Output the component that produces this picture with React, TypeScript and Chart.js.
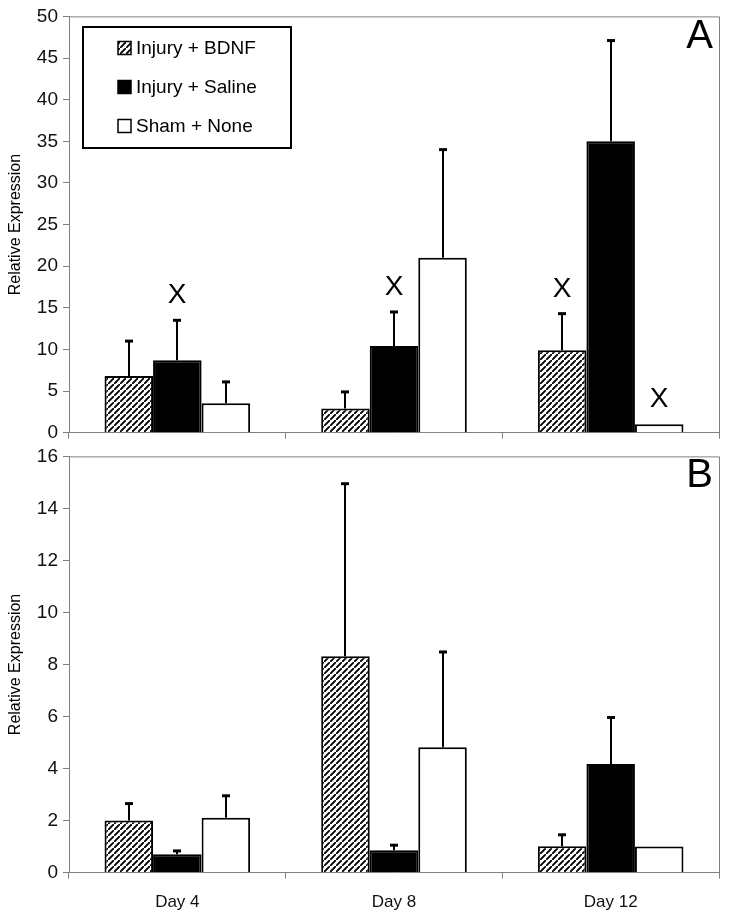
import React, { useEffect, useRef } from 'react';
import { Chart, registerables } from 'chart.js';

Chart.register(...registerables);

const categories = ['Day 4', 'Day 8', 'Day 12'];
const seriesLabels = ['Injury + BDNF', 'Injury + Saline', 'Sham + None'];

// Panel A values and upper error amounts
const aBdnf = [6.8, 2.9, 9.9];
const aSaline = [8.7, 10.4, 35.0];
const aSham = [3.55, 21.0, 1.0];
const aBdnfErr = [4.2, 2.0, 4.4];
const aSalineErr = [4.8, 4.1, 12.1];
const aShamErr = [2.55, 13.0, 0];
const aMarks = [
  [false, false, true],
  [true, true, false],
  [false, false, true],
];

// Panel B values and upper error amounts
const bBdnf = [2.0, 8.32, 1.01];
const bSaline = [0.7, 0.86, 4.17];
const bSham = [2.11, 4.82, 1.0];
const bBdnfErr = [0.65, 6.63, 0.44];
const bSalineErr = [0.13, 0.19, 1.79];
const bShamErr = [0.84, 3.66, 0];
const bMarks = [
  [false, false, false],
  [false, false, false],
  [false, false, false],
];

const FONT = 'Liberation Sans, Arial, sans-serif';
const GRAY = '#808080';

function makeHatch(): CanvasPattern {
  const s = 6;
  const c = document.createElement('canvas');
  c.width = s;
  c.height = s;
  const g = c.getContext('2d')!;
  g.fillStyle = '#fff';
  g.fillRect(0, 0, s, s);
  g.strokeStyle = '#000';
  g.lineWidth = 1.9;
  g.beginPath();
  g.moveTo(-1, s + 1);
  g.lineTo(s + 1, -1);
  g.moveTo(-s - 1, 1);
  g.lineTo(1, -s - 1);
  g.moveTo(s - 1, 2 * s + 1);
  g.lineTo(2 * s + 1, s - 1);
  g.stroke();
  return g.createPattern(c, 'repeat')!;
}

interface Panel {
  values: number[][];
  errs: number[][];
  marks: boolean[][];
  max: number;
  step: number;
  letter: string;
  letterBaseline: number;
  legend: boolean;
  showX: boolean;
  canvasH: number;
  plotTop: number;
  plotBottom: number;
}

const decoPlugin = {
  id: 'panelDeco',
  afterDatasetsDraw(chart: any, _args: any, opts: any) {
    const p: Panel = opts.panel;
    const hatch: CanvasPattern = opts.hatch;
    const ctx: CanvasRenderingContext2D = chart.ctx;
    const ys = chart.scales.y;
    const area = chart.chartArea;
    ctx.save();
    // frame
    ctx.strokeStyle = GRAY;
    ctx.lineWidth = 1;
    ctx.beginPath();
    ctx.moveTo(area.left, area.top + 0.5);
    ctx.lineTo(area.right + 0.5, area.top + 0.5);
    ctx.lineTo(area.right + 0.5, area.bottom);
    ctx.stroke();

    // error bars + marks
    chart.data.datasets.forEach((_ds: any, i: number) => {
      const meta = chart.getDatasetMeta(i);
      meta.data.forEach((bar: any, j: number) => {
        const v = p.values[i][j];
        const e = p.errs[i][j];
        const barTop = ys.getPixelForValue(v);
        const top = ys.getPixelForValue(v + e);
        const x = Math.round(bar.x);
        if (e > 0) {
          ctx.strokeStyle = '#000';
          ctx.lineWidth = 2;
          ctx.beginPath();
          ctx.moveTo(x, barTop);
          ctx.lineTo(x, top);
          ctx.stroke();
          ctx.lineWidth = 3;
          ctx.beginPath();
          ctx.moveTo(x - 4, top);
          ctx.lineTo(x + 4, top);
          ctx.stroke();
        }
        if (p.marks[i][j]) {
          ctx.fillStyle = '#000';
          ctx.font = `28px ${FONT}`;
          ctx.textAlign = 'center';
          ctx.textBaseline = 'alphabetic';
          ctx.fillText('X', x, top - 27 + 10);
        }
      });
    });

    // panel letter
    ctx.fillStyle = '#000';
    ctx.font = `40px ${FONT}`;
    ctx.textAlign = 'right';
    ctx.textBaseline = 'alphabetic';
    ctx.fillText(p.letter, 713, p.letterBaseline);

    // legend
    if (p.legend) {
      const bx = 83, by = 27, bw = 208, bh = 121;
      ctx.fillStyle = '#fff';
      ctx.fillRect(bx, by, bw, bh);
      ctx.strokeStyle = '#000';
      ctx.lineWidth = 2;
      ctx.strokeRect(bx, by, bw, bh);
      const rows = [48, 87, 126];
      const fills: (string | CanvasPattern)[] = [hatch, '#000', '#fff'];
      seriesLabels.forEach((lab, k) => {
        const cy = rows[k];
        ctx.fillStyle = fills[k] as any;
        ctx.fillRect(118, cy - 6.5, 13, 13);
        ctx.strokeStyle = '#000';
        ctx.lineWidth = 1.5;
        ctx.strokeRect(118, cy - 6.5, 13, 13);
        ctx.fillStyle = '#000';
        ctx.font = `19px ${FONT}`;
        ctx.textAlign = 'left';
        ctx.textBaseline = 'middle';
        ctx.fillText(lab, 136, cy + 1);
      });
    }
    ctx.restore();
  },
};

function buildConfig(p: Panel, hatch: CanvasPattern): any {
  const fills = [hatch, '#000', '#fff'];
  return {
    type: 'bar',
    data: {
      labels: categories,
      datasets: p.values.map((vals, i) => ({
        label: seriesLabels[i],
        data: vals,
        backgroundColor: fills[i],
        borderColor: '#000',
        borderWidth: 2,
        categoryPercentage: 0.672,
        barPercentage: 1.0,
      })),
    },
    options: {
      responsive: false,
      animation: false,
      devicePixelRatio: 1,
      layout: { padding: { top: p.plotTop, right: 10, left: 0, bottom: 0 } },
      plugins: {
        legend: { display: false },
        tooltip: { enabled: false },
        panelDeco: { panel: p, hatch },
      },
      scales: {
        x: {
          grid: { offset: true, drawOnChartArea: false, drawTicks: true, tickLength: 6, color: GRAY },
          border: { color: GRAY },
          ticks: { display: p.showX, font: { family: FONT, size: 17 }, color: '#111', padding: 14, maxRotation: 0 },
          afterFit: (s: any) => {
            s.height = p.canvasH - p.plotBottom;
          },
        },
        y: {
          min: 0,
          max: p.max,
          ticks: { stepSize: p.step, font: { family: FONT, size: 19 }, color: '#111', padding: 5 },
          grid: { drawOnChartArea: false, tickLength: 6, color: GRAY },
          border: { color: GRAY },
          title: {
            display: true,
            text: 'Relative Expression',
            font: { family: FONT, size: 16 },
            color: '#000',
            padding: { top: 6, bottom: 0 },
          },
          afterFit: (s: any) => {
            s.width = 69;
          },
        },
      },
    },
    plugins: [decoPlugin],
  };
}

export default function App() {
  const refA = useRef<HTMLCanvasElement>(null);
  const refB = useRef<HTMLCanvasElement>(null);

  useEffect(() => {
    const hatch = makeHatch();
    const panelA: Panel = {
      values: [aBdnf, aSaline, aSham],
      errs: [aBdnfErr, aSalineErr, aShamErr],
      marks: aMarks,
      max: 50,
      step: 5,
      letter: 'A',
      letterBaseline: 48,
      legend: true,
      showX: false,
      canvasH: 456,
      plotTop: 14,
      plotBottom: 432.7,
    };
    const panelB: Panel = {
      values: [bBdnf, bSaline, bSham],
      errs: [bBdnfErr, bSalineErr, bShamErr],
      marks: bMarks,
      max: 16,
      step: 2,
      letter: 'B',
      letterBaseline: 47,
      legend: false,
      showX: true,
      canvasH: 477,
      plotTop: 12.5,
      plotBottom: 432.5,
    };
    const a = new Chart(refA.current!, buildConfig(panelA, hatch));
    const b = new Chart(refB.current!, buildConfig(panelB, hatch));
    return () => {
      a.destroy();
      b.destroy();
    };
  }, []);

  return (
    <div style={{ position: 'absolute', left: 0, top: 0, width: 729, height: 917, background: '#fff' }}>
      <canvas
        ref={refA}
        width={729}
        height={456}
        style={{ position: 'absolute', left: 0, top: 0, width: 729, height: 456 }}
      />
      <canvas
        ref={refB}
        width={729}
        height={477}
        style={{ position: 'absolute', left: 0, top: 440, width: 729, height: 477 }}
      />
    </div>
  );
}
